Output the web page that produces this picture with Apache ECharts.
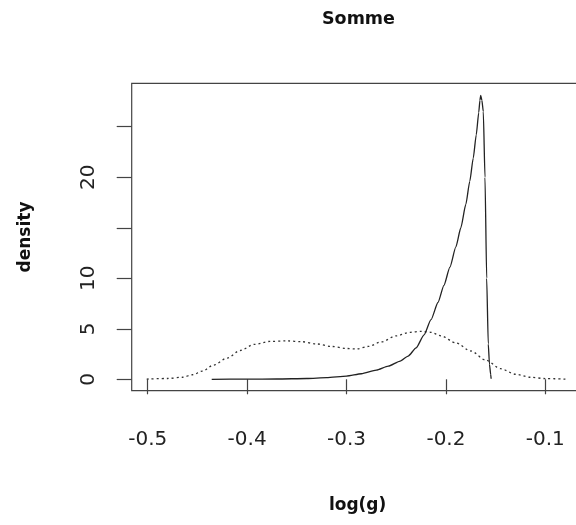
<!DOCTYPE html>
<html>
<head>
<meta charset="utf-8">
<script src="https://cdn.jsdelivr.net/npm/echarts@6/dist/echarts.min.js"></script>
<style>html,body{margin:0;padding:0;background:#fff;}#c{width:576px;height:525px;}</style>
</head>
<body>
<div id="c"></div>
<script>
const titleText = 'Somme';
const xName = 'log(g)';
const yName = 'density';
const xTicks = [-0.5, -0.4, -0.3, -0.2, -0.1];
const yTicks = [0, 5, 10, 15, 20, 25];
const yLabels = [0, 5, 10, 20];

const solidX = [-0.4356,-0.40,-0.37,-0.34,-0.32,-0.30,-0.285,-0.27,-0.258,-0.246,-0.238,-0.23,-0.222,-0.215,-0.208,-0.202,-0.196,-0.19,-0.185,-0.18,-0.176,-0.1725,-0.1695,-0.167,-0.1658,-0.165,-0.1638,-0.1624,-0.1607,-0.159,-0.1574,-0.1562,-0.155,-0.1545];
const solidY = [0,0.01,0.03,0.08,0.16,0.32,0.55,0.9,1.3,1.8,2.3,3.1,4.4,5.9,7.6,9.3,11.1,13.1,15.0,17.3,19.6,21.9,24.2,26.4,27.6,28.1,27.6,26.5,20,10,3.5,1.5,0.5,0.05];

const dottedX = [-0.501,-0.48,-0.465,-0.455,-0.445,-0.434,-0.42,-0.407,-0.393,-0.377,-0.36,-0.345,-0.33,-0.315,-0.3,-0.29,-0.278,-0.265,-0.25,-0.236,-0.225,-0.215,-0.205,-0.19,-0.175,-0.16,-0.145,-0.13,-0.115,-0.1,-0.0785];
const dottedY = [0.02,0.08,0.2,0.45,0.8,1.4,2.1,2.85,3.45,3.75,3.8,3.72,3.5,3.25,3.05,3.0,3.25,3.7,4.3,4.65,4.75,4.65,4.3,3.6,2.8,1.9,1.05,0.5,0.2,0.07,0.01];

const solid = solidX.map((x, i) => [x, solidY[i]]);
const dotted = dottedX.map((x, i) => [x, dottedY[i]]);

const chart = echarts.init(document.getElementById('c'), null, {renderer: 'canvas'});
const font = 'DejaVu Sans';
chart.setOption({
  backgroundColor: '#fff',
  animation: false,
  title: {
    text: titleText, left: 317, top: 5,
    textStyle: {fontFamily: font, fontWeight: 'bold', fontSize: 17.5, color: '#111'}
  },
  grid: {
    left: 131.7, top: 83.3, width: 451.8, height: 307.4,
    outerBoundsMode: 'none', containLabel: false,
    show: true, borderColor: '#444', borderWidth: 1.2, backgroundColor: 'transparent'
  },
  xAxis: {
    type: 'value', min: -0.5161, max: -0.0616,
    name: xName, nameLocation: 'middle', nameGap: 106,
    nameTextStyle: {fontFamily: font, fontWeight: 'bold', fontSize: 17, color: '#111'},
    axisLine: {show: false},
    splitLine: {show: false},
    axisTick: {show: true, inside: false, length: 15, customValues: xTicks, lineStyle: {color: '#444', width: 1.2}},
    axisLabel: {show: true, customValues: xTicks, margin: 39, fontFamily: font, fontSize: 20, color: '#222',
      formatter: v => String(v)}
  },
  yAxis: {
    type: 'value', min: -1.13, max: 29.3,
    name: yName, nameLocation: 'middle', nameGap: 98, nameRotate: 90,
    nameTextStyle: {fontFamily: font, fontWeight: 'bold', fontSize: 17, color: '#111'},
    axisLine: {show: false},
    splitLine: {show: false},
    axisTick: {show: true, inside: false, length: 15, customValues: yTicks, lineStyle: {color: '#444', width: 1.2}},
    axisLabel: {show: true, customValues: yLabels, rotate: 90, margin: 33, fontFamily: font, fontSize: 20, color: '#222',
      formatter: v => String(v)}
  },
  series: [
    {type: 'line', data: dotted, showSymbol: false, smooth: 0.3, smoothMonotone: 'x',
      lineStyle: {color: '#333', width: 1.3, type: [2, 3]}},
    {type: 'line', data: solid, showSymbol: false, smooth: 0.2, smoothMonotone: 'x',
      lineStyle: {color: '#222', width: 1.3}}
  ]
});
</script>
</body>
</html>
